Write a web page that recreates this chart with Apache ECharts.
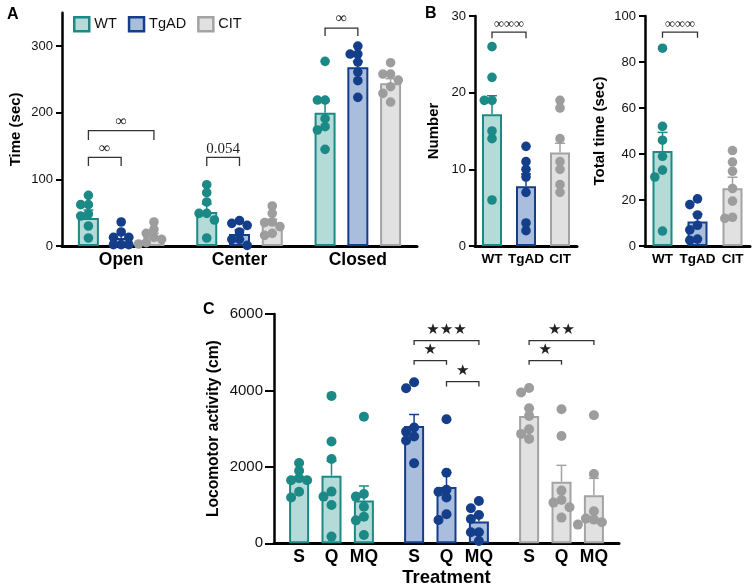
<!DOCTYPE html>
<html><head><meta charset="utf-8">
<script src="https://cdn.jsdelivr.net/npm/echarts@6/dist/echarts.min.js"></script>
<style>html,body{margin:0;padding:0;background:#fff}#c{width:755px;height:587px}</style>
</head><body><div id="c"></div>
<script>
// ================= DATA =================
const genotypes = ['WT', 'TgAD', 'CIT'];
const zonesA = ['Open', 'Center', 'Closed'];
const treatments = ['S', 'Q', 'MQ'];

// Panel A: time in zones (sec)
const meanA_WT = [42, 51, 200];
const semA_WT = [12, 12, 17];
const meanA_TgAD = [12, 18, 268];
const semA_TgAD = [6, 6, 9];
const meanA_CIT = [14, 35, 244];
const semA_CIT = [5, 5, 7];
const ptsA_WT = [[76, 62, 62, 48, 45, 30, 12], [92, 80, 66, 49, 49, 39, 12], [277, 219, 219, 191, 179, 174, 145]];
const ptsA_TgAD = [[36, 21, 13, 13, 2, 2, 2], [38, 34, 31, 21, 10, 10, 1], [300, 288, 288, 276, 261, 248, 223]];
const ptsA_CIT = [[36, 25, 19, 13, 10, 5, 3], [60, 49, 36, 35, 29, 19, 16], [275, 258, 258, 249, 239, 229, 216]];
const bracketsA = [
  { from: [0, 0], to: [0, 1], top: 133, end: 120, text: '∞' },
  { from: [0, 0], to: [0, 2], top: 173, end: 159, text: '∞' },
  { from: [1, 0], to: [1, 1], top: 133, end: 120, text: '0.054' },
  { from: [2, 0], to: [2, 1], top: 327, end: 315, text: '∞' }
];

// Panel B left: Number
const meanB1 = [17.2, 7.8, 12.2];
const semB1 = [2.4, 1.6, 1.2];
const ptsB1 = [[26, 22, 19, 19, 15, 14, 6], [13, 11, 10, 9, 7, 3, 2], [19, 18, 14, 11, 10, 8, 7]];
const bracketsB1 = [{ from: [0, 0], to: [1, 0], top: 27.9, end: 27.1, text: '∞∞∞' }];

// Panel B right: Total time (sec)
const meanB2 = [41.3, 10.6, 25.1];
const semB2 = [8.1, 3.3, 4.8];
const ptsB2 = [[86, 52, 46, 39, 33, 30, 6.5], [20.5, 18, 13.5, 9, 7, 3, 2.5], [41.5, 36.5, 32.5, 25, 19.5, 12.5, 12]];
const bracketsB2 = [{ from: [0, 0], to: [1, 0], top: 93, end: 90.5, text: '∞∞∞' }];

// Panel C: locomotor activity (cm); per treatment, values for WT, TgAD, CIT
const meanC_S = [1690, 3070, 3330];
const semC_S = [55, 300, 200];
const meanC_Q = [1770, 1470, 1610];
const semC_Q = [380, 380, 430];
const meanC_MQ = [1120, 570, 1260];
const semC_MQ = [380, 180, 440];
const ptsC_S = [[2100, 1900, 1700, 1650, 1650, 1350, 1200], [4215, 4058, 3028, 2923, 2793, 2688, 2094], [4066, 3944, 3534, 3334, 2985, 2863, 2732]];
const ptsC_Q = [[3857, 2662, 2208, 1353, 1222, 1004, 175], [3246, 1849, 1400, 1350, 1200, 760, 610], [3508, 2810, 1379, 1134, 1065, 942, 672]];
const ptsC_MQ = [[3314, 1291, 1222, 958, 697, 600, 218], [1107, 916, 741, 636, 288, 288, 60], [3351, 1815, 838, 646, 620, 550, 489]];
const bracketsC = [
  { from: [1, 0], to: [1, 2], top: 5305, end: 5192, text: '★★★' },
  { from: [1, 0], to: [1, 1], top: 4782, end: 4669, text: '★' },
  { from: [1, 1], to: [1, 2], top: 4232, end: 4100, text: '★' },
  { from: [2, 0], to: [2, 2], top: 5305, end: 5192, text: '★★' },
  { from: [2, 0], to: [2, 1], top: 4782, end: 4669, text: '★' }
];

// ================= STYLE =================
const FONT = '"Liberation Sans", Arial, Helvetica, sans-serif';
const palette = {
  WT:   { stroke: '#1b8a86', fill: '#b5dbd9', dot: '#1b8a86' },
  TgAD: { stroke: '#143e8a', fill: '#a9bedc', dot: '#143e8a' },
  CIT:  { stroke: '#a3a3a3', fill: '#e1e1e1', dot: '#9d9d9d' }
};

const series = [];

// simple beeswarm: shift overlapping dots sideways (pixel space)
function swarm(api, ci, vals, r) {
  const ys = vals.map(v => api.coord([ci, v])[1]);
  const order = ys.map((y, i) => i).sort((a, b) => ys[a] - ys[b]);
  const xs = new Array(vals.length).fill(0);
  const placed = [];
  const step = r * 1.6;
  const cands = [0, -1, 1, -2, 2];
  const minD = r * 1.5;
  order.forEach(i => {
    let best = 0, bestD = -1;
    for (const c of cands) {
      const x = c * step;
      const d = placed.length ? Math.min(...placed.map(p => Math.hypot(p[0] - x, p[1] - ys[i]))) : Infinity;
      if (d >= minD) { best = x; bestD = Infinity; break; }
      if (d > bestD) { bestD = d; best = x; }
    }
    xs[i] = best; placed.push([best, ys[i]]);
  });
  return xs;
}

function addPanel(cfg) {
  const n = cfg.groups.length;
  const step = cfg.barWidth * (1 + cfg.barGap);
  const off = i => (i - (n - 1) / 2) * step;
  cfg.groups.forEach((g, si) => {
    series.push({
      type: 'bar', name: g.name, xAxisIndex: cfg.grid, yAxisIndex: cfg.grid,
      barWidth: cfg.barWidth, barGap: (cfg.barGap * 100) + '%', silent: true,
      data: g.means.map((m, ci) => {
        const p = palette[g.colorKey(ci)];
        return { value: m, itemStyle: { color: p.fill, borderColor: p.stroke, borderWidth: 2 } };
      }),
      label: cfg.barLabel ? {
        show: true, position: 'bottom', distance: 5, formatter: g.name,
        fontFamily: FONT, fontWeight: 'bold', fontSize: 17.5, color: '#000'
      } : { show: false }
    });
  });
  cfg.groups.forEach((g, si) => {
    series.push({
      type: 'custom', xAxisIndex: cfg.grid, yAxisIndex: cfg.grid, silent: true, z: 3,
      data: g.means.map((m, ci) => [ci, m, m + g.sems[ci]]),
      renderItem: (params, api) => {
        const ci = api.value(0);
        const p0 = api.coord([ci, api.value(1)]);
        const p1 = api.coord([ci, api.value(2)]);
        const x = p0[0] + off(si);
        const col = palette[g.colorKey(ci)].stroke;
        return { type: 'group', children: [
          { type: 'line', shape: { x1: x, y1: p0[1], x2: x, y2: p1[1] }, style: { stroke: col, lineWidth: 1.5 } },
          { type: 'line', shape: { x1: x - 5, y1: p1[1], x2: x + 5, y2: p1[1] }, style: { stroke: col, lineWidth: 1.5 } }
        ] };
      }
    });
    const dotData = [];
    g.pts.forEach((arr, ci) => arr.forEach((v, k) => dotData.push([ci, v, k])));
    series.push({
      type: 'custom', xAxisIndex: cfg.grid, yAxisIndex: cfg.grid, silent: true, z: 4,
      data: dotData,
      renderItem: (params, api) => {
        const ci = api.value(0), v = api.value(1), k = api.value(2);
        const xs = swarm(api, ci, g.pts[ci], cfg.r);
        const p = api.coord([ci, v]);
        return { type: 'circle', shape: { cx: p[0] + off(si) + xs[k], cy: p[1], r: cfg.r },
                 style: { fill: palette[g.colorKey(ci)].dot } };
      }
    });
  });
  if (cfg.brackets) {
    series.push({
      type: 'custom', xAxisIndex: cfg.grid, yAxisIndex: cfg.grid, silent: true, z: 5,
      encode: { x: 0, y: 4 },
      data: cfg.brackets.map(b => [b.from[0], b.from[1], b.to[0], b.to[1], b.top, b.end]),
      renderItem: (params, api) => {
        const b = cfg.brackets[params.dataIndex];
        const x1 = api.coord([api.value(0), 0])[0] + off(api.value(1));
        const x2 = api.coord([api.value(2), 0])[0] + off(api.value(3));
        const y = api.coord([api.value(0), api.value(4)])[1];
        const ye = api.coord([api.value(0), api.value(5)])[1];
        return { type: 'group', children: [
          { type: 'polyline', shape: { points: [[x1, ye], [x1, y], [x2, y], [x2, ye]] },
            style: { stroke: '#333', lineWidth: 1.3, fill: null } },
          { type: 'text', style: { text: b.text, x: (x1 + x2) / 2, y: y - cfg.bracketTextGap,
            align: 'center', verticalAlign: 'bottom', font: cfg.bracketFont(b.text), fill: '#222' } }
        ] };
      }
    });
  }
}

const serifFont = t => (t === '0.054' ? '15px "Liberation Serif", "Times New Roman", serif' : '16px "Liberation Serif", "DejaVu Serif", serif');

addPanel({
  grid: 0, barWidth: 21, barGap: 0.56, r: 4.8,
  groups: [
    { name: 'WT', means: meanA_WT, sems: semA_WT, pts: ptsA_WT, colorKey: () => 'WT' },
    { name: 'TgAD', means: meanA_TgAD, sems: semA_TgAD, pts: ptsA_TgAD, colorKey: () => 'TgAD' },
    { name: 'CIT', means: meanA_CIT, sems: semA_CIT, pts: ptsA_CIT, colorKey: () => 'CIT' }
  ],
  brackets: bracketsA, bracketTextGap: 1, bracketFont: serifFont
});
addPanel({
  grid: 1, barWidth: 20, barGap: 0.3, r: 4.8,
  groups: [{ name: 'Number', means: meanB1, sems: semB1, pts: ptsB1, colorKey: ci => genotypes[ci] }],
  brackets: bracketsB1, bracketTextGap: 1, bracketFont: () => '14px "Liberation Serif", "DejaVu Serif", serif'
});
addPanel({
  grid: 2, barWidth: 20, barGap: 0.3, r: 4.8,
  groups: [{ name: 'Total time', means: meanB2, sems: semB2, pts: ptsB2, colorKey: ci => genotypes[ci] }],
  brackets: bracketsB2, bracketTextGap: 1, bracketFont: () => '14px "Liberation Serif", "DejaVu Serif", serif'
});
addPanel({
  grid: 3, barWidth: 20, barGap: 0.62, r: 5, barLabel: true,
  groups: [
    { name: 'S', means: meanC_S, sems: semC_S, pts: ptsC_S, colorKey: ci => genotypes[ci] },
    { name: 'Q', means: meanC_Q, sems: semC_Q, pts: ptsC_Q, colorKey: ci => genotypes[ci] },
    { name: 'MQ', means: meanC_MQ, sems: semC_MQ, pts: ptsC_MQ, colorKey: ci => genotypes[ci] }
  ],
  brackets: bracketsC, bracketTextGap: 3, bracketFont: () => '15px "DejaVu Sans", sans-serif'
});

function yAx(grid, o) {
  return Object.assign({
    type: 'value', gridIndex: grid, min: 0,
    axisLine: { show: true, lineStyle: { color: '#000', width: 2.5 } },
    axisTick: { show: true, length: 6, lineStyle: { color: '#000', width: 2 } },
    axisLabel: { fontFamily: FONT, fontSize: 13, color: '#111', margin: 9, formatter: v => String(v) },
    splitLine: { show: false },
    nameLocation: 'middle', nameTextStyle: { fontFamily: FONT, fontWeight: 'bold', fontSize: 15, color: '#000' }
  }, o);
}
function xAx(grid, data, o) {
  return Object.assign({
    type: 'category', gridIndex: grid, data: data,
    axisLine: { show: true, lineStyle: { color: '#000', width: 3 } },
    axisTick: { show: false },
    axisLabel: { interval: 0, fontFamily: FONT, fontWeight: 'bold', fontSize: 13.5, color: '#000', margin: 6, hideOverlap: false },
    splitLine: { show: false }
  }, o);
}

const chart = echarts.init(document.getElementById('c'), null, { renderer: 'canvas' });
chart.setOption({
  animation: false,
  backgroundColor: '#fff',
  title: [
    { text: 'A', left: 2, top: 2, textStyle: { fontFamily: FONT, fontWeight: 'bold', fontSize: 16, color: '#000' } },
    { text: 'B', left: 420, top: 1, textStyle: { fontFamily: FONT, fontWeight: 'bold', fontSize: 16, color: '#000' } },
    { text: 'C', left: 198, top: 297, textStyle: { fontFamily: FONT, fontWeight: 'bold', fontSize: 16, color: '#000' } }
  ],
  legend: {
    left: 68, top: 11, itemWidth: 15, itemHeight: 14, itemGap: 11, icon: 'rect',
    textStyle: { fontFamily: FONT, fontSize: 14.5, color: '#111' },
    data: genotypes.map(gn => ({ name: gn, itemStyle: { color: palette[gn].fill, borderColor: palette[gn].stroke, borderWidth: 2.5 } }))
  },
  grid: [
    { left: 62, top: 12.7, width: 355, height: 233.3, outerBoundsMode: 'none' },
    { left: 475, top: 16, width: 102, height: 230, outerBoundsMode: 'none' },
    { left: 645, top: 16, width: 105, height: 230, outerBoundsMode: 'none' },
    { left: 274, top: 314, width: 345, height: 229.3, outerBoundsMode: 'none' }
  ],
  xAxis: [
    xAx(0, zonesA, { axisLabel: { interval: 0, fontFamily: FONT, fontWeight: 'bold', fontSize: 17.5, color: '#000', margin: 5 } }),
    xAx(1, genotypes),
    xAx(2, genotypes),
    xAx(3, genotypes, { axisLabel: { show: false }, name: 'Treatment', nameLocation: 'middle', nameGap: 25,
      nameTextStyle: { fontFamily: FONT, fontWeight: 'bold', fontSize: 18.5, color: '#000' } })
  ],
  yAxis: [
    yAx(0, { max: 350, name: 'Time (sec)', nameGap: 39,
      axisTick: { show: true, length: 6, customValues: [0, 100, 200, 300], lineStyle: { color: '#000', width: 2 } },
      axisLabel: { fontFamily: FONT, fontSize: 13, color: '#111', margin: 9, customValues: [0, 100, 200, 300] } }),
    yAx(1, { max: 30, interval: 10, name: 'Number', nameGap: 34 }),
    yAx(2, { max: 100, interval: 20, name: 'Total time (sec)', nameGap: 38 }),
    yAx(3, { max: 6000, interval: 2000, name: 'Locomotor activity (cm)', nameGap: 52,
      axisTick: { show: true, length: 9, lineStyle: { color: '#000', width: 2 } },
      axisLabel: { fontFamily: FONT, fontSize: 15, color: '#111', margin: 11, formatter: v => String(v) },
      nameTextStyle: { fontFamily: FONT, fontWeight: 'bold', fontSize: 15.6, color: '#000' } })
  ],
  series: series
});
</script>
</body></html>
